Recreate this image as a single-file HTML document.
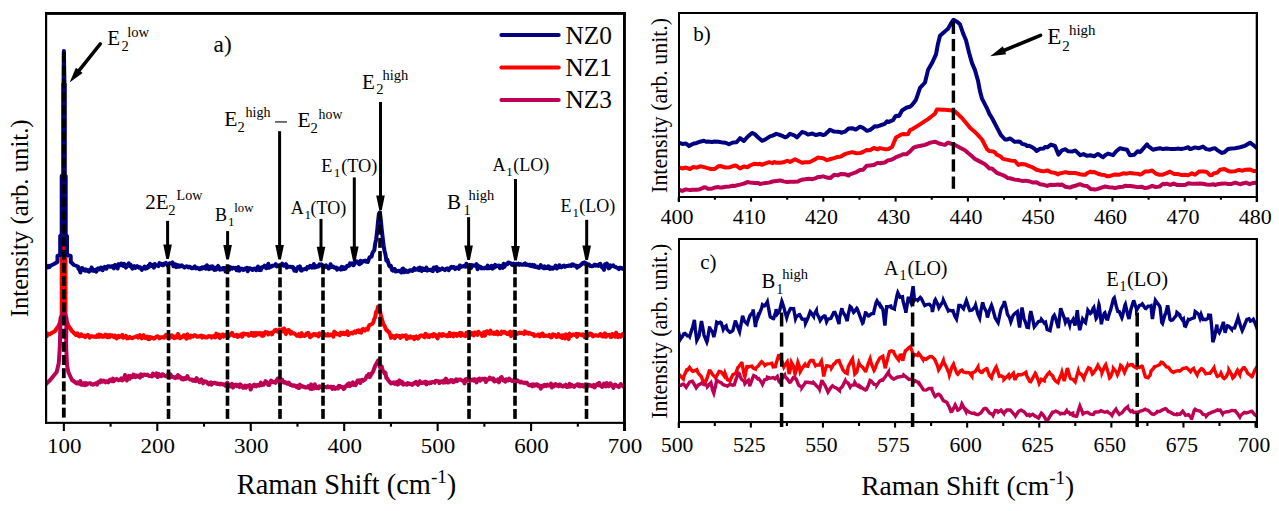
<!DOCTYPE html>
<html><head><meta charset="utf-8"><title>Raman spectra</title><style>html,body{margin:0;padding:0;background:#fff;width:1279px;height:511px;overflow:hidden}svg text{font-family:"Liberation Serif",serif;fill:#000}</style></head><body>
<svg width="1279" height="511" viewBox="0 0 1279 511" style="display:block;font-family:'Liberation Serif', serif">
<rect x="0" y="0" width="1279" height="511" fill="#fff"/>
<defs><clipPath id="ca"><rect x="47" y="14" width="576" height="408"/></clipPath><clipPath id="cb"><rect x="680" y="14" width="576" height="182"/></clipPath><clipPath id="cc"><rect x="680" y="240" width="576" height="181"/></clipPath></defs>
<path d="M46,333.13 46.93,336.07 47.86,333.66 48.79,334.24 49.72,334.31 50,334 55,331 58.5,326 61.7,318 61.7,240 63.9,232 65.5,240 65.5,318 68.5,326 72,331 76,335 76.69,333.53 77.62,333.61 78.55,335.99 79.48,336.38 80.41,334.9 81.34,334.33 82.27,336.02 83.2,336.12 84.13,335.68 85.06,337.27 85.99,335.81 86.92,335.87 87.85,334.76 88.78,336.16 89.71,337.53 90.64,336.14 91.57,336.18 92.5,336.6 93.43,336.45 94.36,336.75 95.29,336.78 96.22,336.89 97.15,335.36 98.08,336.58 99.01,334.51 99.94,336.58 100.87,334.92 101.8,336.25 102.73,336.86 103.66,335.9 104.59,336.48 105.52,334.59 106.45,335.47 107.38,337.19 108.31,335.19 109.24,337.2 110.17,334.98 111.1,335.53 112.03,335.35 112.96,336.59 113.89,337.2 114.82,335.47 115.75,336.47 116.68,338.48 117.61,336.37 118.54,335.86 119.47,337.21 120.4,336.56 121.33,336.07 122.26,334.89 123.19,337.8 124.12,336.29 125.05,336.95 125.98,335.81 126.91,338.43 127.84,337.85 128.77,338.13 129.7,336.95 130.63,337.61 131.56,338.09 132.49,338.25 133.42,337.49 134.35,337.09 135.28,336.77 136.21,336.36 137.14,336.13 138.07,337.59 139,336.93 139.93,335 140.86,337.03 141.79,338.37 142.72,336.89 143.65,335.16 144.58,337.06 145.51,338.05 146.44,337.41 147.37,336.71 148.3,339.21 149.23,339.26 150.16,337.06 151.09,338.06 152.02,337.59 152.95,338.01 153.88,338.74 154.81,338.04 155.74,337.23 156.67,336.41 157.6,336.22 158.53,337.08 159.46,338.38 160.39,337.42 161.32,337.14 162.25,337.36 163.18,337.11 164.11,337.66 165.04,335.81 165.97,334.87 166.9,336.56 167.83,335.76 168.76,338.79 169.69,336.83 170.62,336.72 171.55,335.29 172.48,337.28 173.41,336.27 174.34,338.18 175.27,337.86 176.2,336.07 177.13,337.36 178.06,333.9 178.99,336.14 179.92,338.23 180.85,337.71 181.78,337.02 182.71,336.78 183.64,335.23 184.57,335.27 185.5,337 186.43,338.67 187.36,334.32 188.29,337.38 189.22,337.33 190.15,337.69 191.08,335.66 192.01,336.01 192.94,336.62 193.87,335.42 194.8,335.17 195.73,335.53 196.66,336.4 197.59,336.86 198.52,336.39 199.45,336.48 200.38,335.62 201.31,335.55 202.24,337.55 203.17,336.22 204.1,336.17 205.03,337.26 205.96,337.56 206.89,337.57 207.82,336.59 208.75,336.06 209.68,336.4 210.61,336.25 211.54,337.56 212.47,336.31 213.4,336.66 214.33,335.9 215.26,337.41 216.19,333.61 217.12,336.25 218.05,336.64 218.98,334.5 219.91,338.11 220.84,335.54 221.77,335.5 222.7,334.46 223.63,336.58 224.56,335.83 225.49,334.9 226.42,335.77 227.35,336.24 228.28,336.79 229.21,335.66 230.14,334.33 231.07,334.75 232,332.8 232.93,334.5 233.86,336.08 234.79,335.75 235.72,335.09 236.65,334.8 237.58,336.89 238.51,335.42 239.44,336.08 240.37,335.48 241.3,334.27 242.23,336.68 243.16,333.57 244.09,333.58 245.02,334.39 245.95,334.02 246.88,334.16 247.81,334.07 248.74,335.77 249.67,334.7 250.6,334.98 251.53,332.8 252.46,333.56 253.39,335.63 254.32,333.06 255.25,335.62 256.18,333.13 257.11,334.54 258.04,333.21 258.97,334.29 259.9,333.02 260.83,333.64 261.76,335.65 262.69,333.26 263.62,335.75 264.55,332.83 265.48,331.84 266.41,333.01 267.34,332.26 268.27,334.42 269.2,333.2 270.13,333.33 271.06,332.5 271.99,334.31 272.92,332.26 273.85,331.77 274.78,330.1 275.71,329.86 276.64,330.93 277.57,331.72 278.5,331.78 279.43,329.47 280.36,331.09 281.29,330.76 282.22,329.41 283.15,331.34 284.08,328.45 285.01,331.44 285.94,334.1 286.87,330.51 287.8,331.92 288.73,330.1 289.66,331.65 290.59,333.6 291.52,331.91 292.45,333.31 293.38,333.23 294.31,333.46 295.24,334.32 296.17,334.85 297.1,335.85 298.03,335.56 298.96,334.12 299.89,336.35 300.82,336.19 301.75,333.13 302.68,335.6 303.61,335.8 304.54,335.97 305.47,335.53 306.4,333.53 307.33,334.68 308.26,332.71 309.19,334.83 310.12,337.26 311.05,335.79 311.98,335.98 312.91,334.51 313.84,333.97 314.77,333.92 315.7,335.25 316.63,334.24 317.56,334.43 318.49,336.4 319.42,333.35 320.35,333.71 321.28,334.6 322.21,335.06 323.14,335.04 324.07,333.65 325,335.4 325.93,335.05 326.86,335.59 327.79,334.01 328.72,335.47 329.65,335.44 330.58,334.47 331.51,334.94 332.44,334.54 333.37,336.6 334.3,331.62 335.23,333.4 336.16,333.03 337.09,334.41 338.02,333.98 338.95,334.17 339.88,335.3 340.81,332.6 341.74,333.34 342.67,333.89 343.6,332.68 344.53,334.27 345.46,334.08 346.39,332.79 347.32,331.48 348.25,335.04 349.18,333.65 350.11,333.45 351.04,332.91 351.97,332.66 352.9,333.41 353.83,332.3 354.76,331.42 355.69,332.69 356.62,331.76 357.55,330.61 358.48,330.22 359.41,332.23 360.34,331.36 361.27,332.55 362.2,329.48 363.13,328.91 364.06,329.82 364.99,330.52 365.92,329.26 366.85,328.63 367.78,329.72 368.71,326.23 369.64,324.97 370.57,324.71 371.5,324.23 372.43,323.76 373.36,322.3 374.29,318.8 375.22,317.01 376.15,311.65 377.08,311.39 378.01,306.61 378.94,309.81 379.87,310.07 380.8,314.94 381.73,318.27 382.66,321.96 383.59,324.56 384.52,325.76 385.45,328.08 386.38,330.33 387.31,330.2 388.24,331.94 389.17,331.91 390.1,334.59 391.03,337.84 391.96,336.9 392.89,335.69 393.82,336.24 394.75,338.26 395.68,336.68 396.61,335.43 397.54,336.06 398.47,336.02 399.4,336.04 400.33,337.89 401.26,337.21 402.19,335.47 403.12,336.5 404.05,335.81 404.98,335.71 405.91,335.35 406.84,338.9 407.77,336.61 408.7,337.55 409.63,337.84 410.56,336.43 411.49,337.41 412.42,337.38 413.35,336.99 414.28,339.1 415.21,336.99 416.14,336.39 417.07,337.32 418,338.53 418.93,337.63 419.86,335.98 420.79,335.53 421.72,335.41 422.65,335.67 423.58,336.79 424.51,337.25 425.44,333.78 426.37,336.22 427.3,334.98 428.23,336.9 429.16,337.11 430.09,335.2 431.02,335.51 431.95,334.91 432.88,336.34 433.81,334.09 434.74,334.57 435.67,335 436.6,337.05 437.53,338.29 438.46,335.62 439.39,334.19 440.32,335.57 441.25,334.48 442.18,335.88 443.11,334.1 444.04,334.86 444.97,335.19 445.9,335.73 446.83,335.01 447.76,336.44 448.69,335.13 449.62,332.94 450.55,335.9 451.48,334.51 452.41,334.03 453.34,336.38 454.27,333.57 455.2,334.69 456.13,333.78 457.06,336 457.99,334.06 458.92,334.67 459.85,332.84 460.78,335.9 461.71,333.1 462.64,335.23 463.57,335.41 464.5,335.5 465.43,336.1 466.36,332.78 467.29,334.47 468.22,334.14 469.15,334.42 470.08,335.13 471.01,334 471.94,332.95 472.87,333.7 473.8,335.46 474.73,332.43 475.66,333.78 476.59,332.57 477.52,334.83 478.45,331.76 479.38,333.16 480.31,333.36 481.24,333.59 482.17,336.02 483.1,335.1 484.03,332.21 484.96,335.69 485.89,331.96 486.82,331.18 487.75,331.55 488.68,333.39 489.61,333.72 490.54,330.66 491.47,333.54 492.4,332.74 493.33,333.77 494.26,332.54 495.19,333.93 496.12,333.53 497.05,331.59 497.98,334.44 498.91,333.06 499.84,333.6 500.77,334.16 501.7,331.68 502.63,332.64 503.56,331.81 504.49,331.66 505.42,332.97 506.35,333.04 507.28,334.11 508.21,334.16 509.14,332.6 510.07,331.7 511,336.13 511.93,334.97 512.86,332.48 513.79,331.58 514.72,332.14 515.65,332.93 516.58,333.9 517.51,333.76 518.44,333.23 519.37,332.55 520.3,333.09 521.23,332.65 522.16,333.16 523.09,333.07 524.02,333.88 524.95,331.35 525.88,333.16 526.81,333.35 527.74,332.56 528.67,333.75 529.6,332.92 530.53,333.49 531.46,334.05 532.39,334.23 533.32,334.02 534.25,336.01 535.18,335.16 536.11,335.43 537.04,335.46 537.97,334.6 538.9,334.49 539.83,336.5 540.76,335.31 541.69,333.85 542.62,333.48 543.55,336.23 544.48,335.25 545.41,336.06 546.34,335.59 547.27,335.79 548.2,336.08 549.13,334.92 550.06,336.28 550.99,337.38 551.92,337.05 552.85,334.36 553.78,334.78 554.71,334.77 555.64,335.94 556.57,337.13 557.5,336.51 558.43,334.19 559.36,336.14 560.29,336.93 561.22,335.51 562.15,338.05 563.08,335.19 564.01,337.15 564.94,338.4 565.87,334.36 566.8,335.36 567.73,336.3 568.66,339.15 569.59,333.6 570.52,336.14 571.45,335.78 572.38,334.95 573.31,334.45 574.24,334.75 575.17,334.95 576.1,333.84 577.03,336.93 577.96,333.95 578.89,334.66 579.82,334.37 580.75,334.62 581.68,335.15 582.61,334.2 583.54,334.76 584.47,336.9 585.4,336.16 586.33,334.68 587.26,336 588.19,334.15 589.12,335.25 590.05,333.43 590.98,333.74 591.91,334.05 592.84,336.37 593.77,335.26 594.7,335.61 595.63,335.18 596.56,335.42 597.49,335.48 598.42,335.86 599.35,335.2 600.28,334.02 601.21,334.17 602.14,336.38 603.07,336.6 604,335.67 604.93,333.26 605.86,336.81 606.79,335.44 607.72,335.02 608.65,335.13 609.58,334.72 610.51,337.07 611.44,337.01 612.37,334 613.3,334.98 614.23,335.54 615.16,336.63 616.09,332.58 617.02,336.3 617.95,337.14 618.88,334.96 619.81,335.3 620.74,336.75 621.67,335.82 622.6,333.97 623.53,334.18 624.46,334.37" fill="none" stroke="#ff0000" stroke-width="4" stroke-linejoin="round" stroke-linecap="round" clip-path="url(#ca)"/>
<path d="M46,384 50.2,380 56.7,372 58.8,363 59.9,345 60.5,318 63.9,311 66.5,318 66.1,345 67,365 68.3,372 72,380 77,383.5 77.62,382.35 78.55,383 79.48,383.76 80.41,381.15 81.34,384.67 82.27,384.85 83.2,384.6 84.13,383.13 85.06,385.26 85.99,383.01 86.92,384.56 87.85,383.43 88.78,383.41 89.71,383.18 90.64,383.25 91.57,384.42 92.5,384.69 93.43,384.59 94.36,383.92 95.29,383.55 96.22,383.21 97.15,384.54 98.08,382.01 99.01,381.68 99.94,382.32 100.87,380.31 101.8,381.77 102.73,381.85 103.66,380.66 104.59,381.04 105.52,382.32 106.45,381.18 107.38,381.4 108.31,382.33 109.24,380.4 110.17,379.7 111.1,380.79 112.03,381.17 112.96,378.55 113.89,381.11 114.82,379.86 115.75,379.57 116.68,378.89 117.61,379.43 118.54,380.49 119.47,379.8 120.4,379.9 121.33,378.39 122.26,380.33 123.19,379.76 124.12,378.12 125.05,375.03 125.98,377.77 126.91,380.53 127.84,377.23 128.77,375.96 129.7,378.77 130.63,376.03 131.56,377.07 132.49,377.2 133.42,374.58 134.35,376.19 135.28,377.24 136.21,375.44 137.14,376.42 138.07,375.59 139,376.68 139.93,377.54 140.86,374.25 141.79,375.11 142.72,375.82 143.65,374.66 144.58,374.41 145.51,374.9 146.44,374.95 147.37,374.5 148.3,375.55 149.23,376.05 150.16,375.96 151.09,375.86 152.02,376.41 152.95,373.57 153.88,374.93 154.81,375.25 155.74,375.61 156.67,373.24 157.6,377.08 158.53,374.02 159.46,375.29 160.39,375.81 161.32,376.21 162.25,374.29 163.18,374.5 164.11,375.56 165.04,375.87 165.97,376.31 166.9,375.34 167.83,374.75 168.76,374.16 169.69,377.67 170.62,374.38 171.55,376.8 172.48,376.49 173.41,377.18 174.34,377.55 175.27,378.15 176.2,376.77 177.13,377.44 178.06,375.03 178.99,377.41 179.92,376.54 180.85,377.55 181.78,379.25 182.71,378.18 183.64,379.44 184.57,378.19 185.5,379.02 186.43,378.28 187.36,376.1 188.29,378.26 189.22,378.9 190.15,379.5 191.08,379.47 192.01,379.46 192.94,380.78 193.87,380.57 194.8,379.59 195.73,381.13 196.66,378.13 197.59,380.15 198.52,380.44 199.45,382.19 200.38,380.31 201.31,379.44 202.24,381.4 203.17,383.22 204.1,381.27 205.03,381.54 205.96,381.58 206.89,382.01 207.82,383.53 208.75,384.4 209.68,382.91 210.61,382.42 211.54,384.71 212.47,382.92 213.4,383.02 214.33,382.69 215.26,382.87 216.19,383.61 217.12,383.16 218.05,384.06 218.98,383.83 219.91,384.45 220.84,383.54 221.77,383.85 222.7,384.44 223.63,384.36 224.56,384.49 225.49,385.76 226.42,383.38 227.35,382.51 228.28,385.53 229.21,384.56 230.14,386.4 231.07,384.91 232,383.8 232.93,387.59 233.86,385.71 234.79,384.86 235.72,384.61 236.65,386.14 237.58,384.86 238.51,386.11 239.44,387.03 240.37,384.3 241.3,385.5 242.23,386.48 243.16,387.83 244.09,387.08 245.02,385.6 245.95,387.74 246.88,385.77 247.81,386.01 248.74,386.62 249.67,385.01 250.6,389.59 251.53,387.49 252.46,386.35 253.39,385.4 254.32,384.64 255.25,386.2 256.18,386.4 257.11,385.03 258.04,385.08 258.97,385.71 259.9,384.82 260.83,382.63 261.76,385.17 262.69,384.47 263.62,384.77 264.55,382.89 265.48,381.15 266.41,381.87 267.34,383.33 268.27,385.06 269.2,385.13 270.13,382.66 271.06,380.51 271.99,381.55 272.92,382.23 273.85,382.05 274.78,381.53 275.71,382.77 276.64,380.2 277.57,378.72 278.5,380.08 279.43,379.73 280.36,383.47 281.29,380.87 282.22,379.63 283.15,382.06 284.08,382.72 285.01,381.94 285.94,382.41 286.87,383.67 287.8,383.47 288.73,382.52 289.66,384.33 290.59,385.1 291.52,384.85 292.45,385.82 293.38,385.87 294.31,385.31 295.24,385.73 296.17,386.84 297.1,385.8 298.03,387.86 298.96,388.07 299.89,384.56 300.82,386.75 301.75,386.03 302.68,386.19 303.61,387.07 304.54,386.75 305.47,387.58 306.4,387.34 307.33,387.42 308.26,386.17 309.19,386.67 310.12,388.68 311.05,384.37 311.98,389.01 312.91,386.52 313.84,388.45 314.77,384.32 315.7,386.73 316.63,388.14 317.56,387.39 318.49,388.35 319.42,386.29 320.35,386.65 321.28,386.56 322.21,387.85 323.14,387.81 324.07,387.18 325,387.03 325.93,387.01 326.86,387.44 327.79,386.31 328.72,387.29 329.65,387.21 330.58,386.78 331.51,386.75 332.44,389.01 333.37,386.71 334.3,387.84 335.23,388.9 336.16,388.21 337.09,387.42 338.02,388.51 338.95,385.83 339.88,386.05 340.81,386.93 341.74,387.01 342.67,386.97 343.6,388.9 344.53,388.41 345.46,386.19 346.39,386.17 347.32,384.55 348.25,385.55 349.18,383.39 350.11,386.11 351.04,383.71 351.97,384.62 352.9,382.29 353.83,384.98 354.76,383.85 355.69,385.05 356.62,382.68 357.55,380.53 358.48,381.14 359.41,380.29 360.34,383.06 361.27,380.27 362.2,379.73 363.13,380.8 364.06,379.98 364.99,379.75 365.92,378.11 366.85,375.85 367.78,375.85 368.71,374.14 369.64,377.09 370.57,375.7 371.5,373.21 372.43,373.01 373.36,370.91 374.29,368.25 375.22,365.61 376.15,364.13 377.08,362.6 378.01,360.57 378.94,361.14 379.87,367.17 380.8,368.19 381.73,366.41 382.66,370.85 383.59,371.32 384.52,373.4 385.45,372.81 386.38,378.06 387.31,378.39 388.24,380.31 389.17,381.41 390.1,382.4 391.03,383.5 391.96,382.62 392.89,383.03 393.82,382.43 394.75,383.88 395.68,383.04 396.61,382.01 397.54,384.63 398.47,384.09 399.4,380.35 400.33,381.25 401.26,383.06 402.19,381.82 403.12,384.66 404.05,383.51 404.98,383.94 405.91,384.35 406.84,384.79 407.77,383.01 408.7,384.01 409.63,383.6 410.56,384.2 411.49,383.92 412.42,384.87 413.35,383.88 414.28,382.73 415.21,383.37 416.14,381.95 417.07,383.53 418,384.81 418.93,382.43 419.86,381.22 420.79,382.92 421.72,382.4 422.65,382.91 423.58,382.21 424.51,382.9 425.44,381.64 426.37,384.43 427.3,382.41 428.23,383.18 429.16,383.41 430.09,382.35 431.02,382.97 431.95,382.14 432.88,381.85 433.81,382.03 434.74,382.75 435.67,380.73 436.6,381.06 437.53,381.09 438.46,381.27 439.39,383.09 440.32,381.68 441.25,381.29 442.18,381.69 443.11,382.61 444.04,380.52 444.97,382.38 445.9,378.58 446.83,380.08 447.76,382.59 448.69,382.59 449.62,380.99 450.55,380.22 451.48,381.51 452.41,380.06 453.34,382.13 454.27,381.65 455.2,381.11 456.13,379.25 457.06,381.19 457.99,379.77 458.92,379.72 459.85,379.46 460.78,379.74 461.71,380.37 462.64,380.71 463.57,380.68 464.5,383.46 465.43,379.31 466.36,380.96 467.29,378.93 468.22,379.45 469.15,378.38 470.08,381.01 471.01,379.96 471.94,379.82 472.87,379.54 473.8,380.69 474.73,379.13 475.66,380.12 476.59,382.46 477.52,379.52 478.45,378.99 479.38,378.56 480.31,380.58 481.24,379.76 482.17,378.85 483.1,378.77 484.03,379.72 484.96,378.58 485.89,382.01 486.82,379.48 487.75,379.49 488.68,379.59 489.61,377.69 490.54,378.09 491.47,379.29 492.4,379.66 493.33,378.32 494.26,381.56 495.19,380.19 496.12,381.12 497.05,380.99 497.98,379.44 498.91,382.38 499.84,379.83 500.77,377.61 501.7,377.11 502.63,379.69 503.56,380.65 504.49,379.77 505.42,381.61 506.35,379.36 507.28,380.32 508.21,380.5 509.14,378.55 510.07,380.03 511,380.1 511.93,380.9 512.86,381.03 513.79,380.78 514.72,378.88 515.65,380.63 516.58,381.18 517.51,380.28 518.44,381.36 519.37,381.72 520.3,382.54 521.23,381.71 522.16,382.56 523.09,382.65 524.02,382.91 524.95,382.54 525.88,383.21 526.81,382.66 527.74,383.95 528.67,385.14 529.6,385.22 530.53,385.45 531.46,384.58 532.39,386.31 533.32,384.35 534.25,385.77 535.18,385.45 536.11,384.24 537.04,384.35 537.97,386 538.9,385.28 539.83,385.59 540.76,388.72 541.69,386.01 542.62,385.56 543.55,386.27 544.48,384.83 545.41,385.33 546.34,386.03 547.27,384.66 548.2,385.54 549.13,385.38 550.06,385.7 550.99,383.64 551.92,387.53 552.85,385.49 553.78,386.19 554.71,384.45 555.64,384.15 556.57,385.61 557.5,385.23 558.43,386.3 559.36,384.57 560.29,384.5 561.22,385.95 562.15,386.35 563.08,386.6 564.01,385.55 564.94,385.87 565.87,384.71 566.8,387.03 567.73,386.84 568.66,386.8 569.59,383.82 570.52,386.55 571.45,384.78 572.38,386.12 573.31,386.05 574.24,386.92 575.17,385.37 576.1,385.2 577.03,384.47 577.96,384.28 578.89,386.21 579.82,384.58 580.75,386.31 581.68,385.15 582.61,384.95 583.54,386.63 584.47,386.51 585.4,384.48 586.33,385.38 587.26,385.56 588.19,386.3 589.12,384.76 590.05,385.11 590.98,385.44 591.91,386.32 592.84,386.54 593.77,384.97 594.7,387.49 595.63,386.03 596.56,384.69 597.49,383.86 598.42,385.01 599.35,382.95 600.28,385.76 601.21,386.17 602.14,386.95 603.07,386.1 604,383.68 604.93,385.25 605.86,386.32 606.79,383.17 607.72,384.65 608.65,386.24 609.58,385.61 610.51,383.35 611.44,385 612.37,385.58 613.3,387.84 614.23,385.07 615.16,384.56 616.09,385.82 617.02,385.92 617.95,386.18 618.88,387.14 619.81,385.48 620.74,384.05 621.67,385.6 622.6,385.58 623.53,386.62 624.46,386.48" fill="none" stroke="#be0055" stroke-width="4" stroke-linejoin="round" stroke-linecap="round" clip-path="url(#ca)"/>
<path d="M46,265.85 46.93,267.32 47.86,267.4 48.79,265.93 49.72,267.03 50,266 54,264 57.4,262 57.5,256 60.2,255 60.2,236 61.7,235 61.7,176 63.2,175 63.2,84 63.6,83 63.9,51 64.4,83 64.8,84 64.8,175 65.7,176 65.7,235 67,236 67,255 70.7,256 70.8,262 74,265 78,266.5 78.55,269.12 79.48,269.27 80.41,272.47 81.34,268.28 82.27,267.91 83.2,269.03 84.13,270.31 85.06,270.75 85.99,269.44 86.92,269.99 87.85,271.06 88.78,271.72 89.71,269.89 90.64,270.68 91.57,267.46 92.5,269.36 93.43,270.8 94.36,270.18 95.29,269.84 96.22,271.65 97.15,269.37 98.08,268.28 99.01,269.5 99.94,269.27 100.87,267.55 101.8,269.67 102.73,270.2 103.66,267.43 104.59,266.88 105.52,267.52 106.45,268.76 107.38,266.55 108.31,266.16 109.24,266.13 110.17,266.88 111.1,266.67 112.03,266.06 112.96,267.37 113.89,268.33 114.82,265.03 115.75,266.63 116.68,265.63 117.61,268.5 118.54,264.14 119.47,264.67 120.4,265.16 121.33,263.51 122.26,264.9 123.19,266 124.12,263.73 125.05,265.58 125.98,267.55 126.91,265.08 127.84,264.91 128.77,263.28 129.7,266.12 130.63,264.62 131.56,267.2 132.49,268.56 133.42,267.52 134.35,266.19 135.28,267.91 136.21,266.79 137.14,266.16 138.07,266.93 139,267.79 139.93,267.14 140.86,268.11 141.79,269.86 142.72,268.12 143.65,268.21 144.58,266.56 145.51,268.65 146.44,267.46 147.37,268.05 148.3,265.94 149.23,266.9 150.16,263.9 151.09,265.93 152.02,265.22 152.95,264.87 153.88,267.71 154.81,263.94 155.74,265.29 156.67,265.13 157.6,265.7 158.53,266.07 159.46,263.04 160.39,264.07 161.32,263.76 162.25,265.18 163.18,265.33 164.11,263.76 165.04,263.54 165.97,262.96 166.9,264.44 167.83,265.86 168.76,264.44 169.69,263.28 170.62,263.18 171.55,263.38 172.48,262.43 173.41,266.25 174.34,264.54 175.27,264.22 176.2,267.18 177.13,265.11 178.06,266.66 178.99,265.49 179.92,266.57 180.85,265.62 181.78,265.31 182.71,266.36 183.64,266.88 184.57,267.48 185.5,266.69 186.43,266.37 187.36,266.42 188.29,267.35 189.22,266.64 190.15,266.98 191.08,268.09 192.01,268.29 192.94,268.33 193.87,267.08 194.8,266.42 195.73,268.4 196.66,268.31 197.59,267.82 198.52,268.51 199.45,269.24 200.38,268.09 201.31,268.75 202.24,267.23 203.17,268.07 204.1,267.39 205.03,266.71 205.96,268.78 206.89,265.17 207.82,268.22 208.75,269.14 209.68,268.72 210.61,266.57 211.54,268.53 212.47,266.25 213.4,267.28 214.33,269.83 215.26,268.42 216.19,269.54 217.12,267.03 218.05,265.94 218.98,267.4 219.91,269.63 220.84,269.23 221.77,269.39 222.7,268.05 223.63,268.11 224.56,267.99 225.49,271.4 226.42,268.3 227.35,270.15 228.28,268.02 229.21,269.75 230.14,267.07 231.07,267.74 232,268.72 232.93,267.75 233.86,267.98 234.79,268.3 235.72,267.94 236.65,270.3 237.58,269.9 238.51,267.18 239.44,270.67 240.37,268.8 241.3,268.86 242.23,268.77 243.16,269.97 244.09,269.84 245.02,268.52 245.95,269.2 246.88,267.73 247.81,271.24 248.74,268.28 249.67,268.25 250.6,268.43 251.53,269.35 252.46,269.97 253.39,268.69 254.32,269.02 255.25,268.51 256.18,270.19 257.11,268.89 258.04,266.62 258.97,269.96 259.9,268.53 260.83,270.11 261.76,267.13 262.69,267.07 263.62,267.23 264.55,265.68 265.48,266.63 266.41,268.23 267.34,267.42 268.27,263.81 269.2,267.7 270.13,266.5 271.06,266.84 271.99,265.82 272.92,265.84 273.85,265.56 274.78,265.43 275.71,264.13 276.64,266.33 277.57,265.36 278.5,265.5 279.43,265.43 280.36,264.71 281.29,265.02 282.22,263.71 283.15,265.61 284.08,265.8 285.01,265.43 285.94,264.04 286.87,267.66 287.8,266.27 288.73,266.72 289.66,266.69 290.59,266.67 291.52,267.17 292.45,266.67 293.38,267.52 294.31,270.68 295.24,269.94 296.17,271.04 297.1,268.32 298.03,267.04 298.96,267.71 299.89,266.34 300.82,270.42 301.75,270.53 302.68,269.21 303.61,269.39 304.54,269.24 305.47,268.54 306.4,269.29 307.33,267.17 308.26,267.58 309.19,267.68 310.12,265.74 311.05,266.27 311.98,267.62 312.91,267.3 313.84,263.97 314.77,267.48 315.7,266.66 316.63,266.94 317.56,265.86 318.49,266.44 319.42,264.26 320.35,265.36 321.28,264.38 322.21,264.97 323.14,266.86 324.07,267.43 325,265.78 325.93,265.38 326.86,266.88 327.79,266.7 328.72,268.5 329.65,267.28 330.58,264.22 331.51,267.07 332.44,266.86 333.37,266.53 334.3,267.75 335.23,267.84 336.16,267.53 337.09,269.71 338.02,268.56 338.95,268.66 339.88,268.41 340.81,269.55 341.74,266.87 342.67,269.23 343.6,267.39 344.53,268.97 345.46,268.55 346.39,267.15 347.32,265.68 348.25,266.06 349.18,265.71 350.11,263.28 351.04,264.11 351.97,263.3 352.9,265.21 353.83,265.24 354.76,262.3 355.69,262.3 356.62,261.25 357.55,262.83 358.48,263.29 359.41,264.25 360.34,260.75 361.27,263.06 362.2,261.75 363.13,260.98 364.06,261.23 364.99,260.59 365.92,261.69 366.85,260.93 367.78,261.92 368.71,259.57 369.64,257.25 370.57,257 371.5,256.88 372.43,252.97 373.36,251.51 374.29,250.34 375.22,243.6 376.15,239.35 377.08,231.81 378.01,221.67 378.94,213.85 379.87,212.31 380.8,219.68 381.73,229.36 382.66,237.53 383.59,245.36 384.52,250.95 385.45,254.32 386.38,260.6 387.31,259.58 388.24,262.63 389.17,265.72 390.1,266.73 391.03,265.93 391.96,269.96 392.89,270.65 393.82,269.22 394.75,268.94 395.68,271.56 396.61,271.08 397.54,271.18 398.47,270.64 399.4,270.85 400.33,271.64 401.26,272.39 402.19,269.07 403.12,268.65 404.05,272.21 404.98,270.12 405.91,271.69 406.84,270.93 407.77,272.06 408.7,271.56 409.63,270.14 410.56,270.14 411.49,270.54 412.42,270.89 413.35,269.28 414.28,268.2 415.21,269.88 416.14,269.64 417.07,269.45 418,268.48 418.93,270.2 419.86,267.63 420.79,269 421.72,270.94 422.65,268.31 423.58,269.98 424.51,270.02 425.44,270 426.37,267.69 427.3,270.64 428.23,269.69 429.16,270.07 430.09,269.87 431.02,269.6 431.95,270.87 432.88,271.11 433.81,267.49 434.74,268.68 435.67,269.35 436.6,267.15 437.53,271.14 438.46,268.68 439.39,270.15 440.32,269.77 441.25,269.28 442.18,268.37 443.11,269.02 444.04,269.44 444.97,270.11 445.9,268.91 446.83,268.58 447.76,268.61 448.69,270.16 449.62,268.9 450.55,267.68 451.48,266.87 452.41,267.63 453.34,266.91 454.27,267.28 455.2,269.05 456.13,268.15 457.06,267.47 457.99,267.5 458.92,268.79 459.85,265.51 460.78,267.1 461.71,266.26 462.64,266.53 463.57,266.35 464.5,265.84 465.43,266.72 466.36,263.7 467.29,266.36 468.22,266.78 469.15,265 470.08,265 471.01,268.2 471.94,265.17 472.87,265.79 473.8,265.42 474.73,265.66 475.66,265.67 476.59,264.17 477.52,269.17 478.45,265.84 479.38,267.14 480.31,266.71 481.24,268.36 482.17,267.72 483.1,268.27 484.03,268.38 484.96,268.08 485.89,267.25 486.82,268.26 487.75,265.55 488.68,268.29 489.61,268.1 490.54,267.66 491.47,265.84 492.4,268.7 493.33,266.42 494.26,267.74 495.19,264.92 496.12,266.6 497.05,265.94 497.98,265.63 498.91,265.58 499.84,268.07 500.77,265.9 501.7,266.12 502.63,267.89 503.56,263.8 504.49,266.85 505.42,264.59 506.35,264.14 507.28,264.21 508.21,262.53 509.14,262.7 510.07,263.03 511,263.56 511.93,264.88 512.86,265.24 513.79,263.63 514.72,264.44 515.65,264.53 516.58,263.83 517.51,264.37 518.44,263.53 519.37,264.85 520.3,264.07 521.23,264.45 522.16,264.78 523.09,264.76 524.02,263.92 524.95,263.35 525.88,264.87 526.81,264.45 527.74,264.62 528.67,265.21 529.6,264.69 530.53,266.09 531.46,266.18 532.39,264.9 533.32,266.42 534.25,265.11 535.18,267.08 536.11,267.1 537.04,266.54 537.97,267.66 538.9,267.92 539.83,267.41 540.76,265.02 541.69,267.28 542.62,267.45 543.55,268.19 544.48,266.31 545.41,268.23 546.34,267.9 547.27,268 548.2,266.23 549.13,266.66 550.06,268.85 550.99,268.51 551.92,267.5 552.85,268.75 553.78,267.82 554.71,267.03 555.64,265.71 556.57,268.49 557.5,267.16 558.43,267.5 559.36,265.21 560.29,266.5 561.22,267.33 562.15,266.65 563.08,266.02 564.01,265.51 564.94,266.86 565.87,266.13 566.8,266.06 567.73,266.01 568.66,265.52 569.59,265.77 570.52,265.36 571.45,265.96 572.38,264.33 573.31,264.54 574.24,265.68 575.17,265.38 576.1,265.65 577.03,267.59 577.96,266.14 578.89,266.49 579.82,265.65 580.75,265.02 581.68,264.23 582.61,263.03 583.54,263.49 584.47,262.46 585.4,263.78 586.33,263.26 587.26,263.94 588.19,264.98 589.12,264.57 590.05,266 590.98,266.04 591.91,266.2 592.84,266.05 593.77,265.44 594.7,264.63 595.63,265.73 596.56,265.01 597.49,265.12 598.42,265.84 599.35,264.26 600.28,263.74 601.21,265.94 602.14,267.59 603.07,266.96 604,269.91 604.93,264.37 605.86,265.29 606.79,263.58 607.72,265.24 608.65,268.35 609.58,268.15 610.51,265.39 611.44,266.26 612.37,265.83 613.3,265.38 614.23,266.71 615.16,266.74 616.09,267.33 617.02,267.65 617.95,268.27 618.88,269.15 619.81,267.71 620.74,267.72 621.67,268.11 622.6,268.74 623.53,268.27 624.46,267.5" fill="none" stroke="#000080" stroke-width="4" stroke-linejoin="round" stroke-linecap="round" clip-path="url(#ca)"/>
<rect x="45" y="12" width="581" height="2.9" fill="#000"/>
<rect x="45" y="12" width="2.2" height="412" fill="#000"/>
<rect x="623" y="12" width="2.9" height="419" fill="#000"/>
<rect x="45" y="421.8" width="581" height="2.1" fill="#000"/>
<rect x="62.8" y="423" width="2.1" height="8" fill="#000"/>
<text x="0" y="0" font-size="22" text-anchor="middle" transform="translate(64.3,452.9) scale(1.045,1)">100</text>
<rect x="156.25" y="423" width="2.1" height="8" fill="#000"/>
<text x="0" y="0" font-size="22" text-anchor="middle" transform="translate(157.75,452.9) scale(1.045,1)">200</text>
<rect x="249.7" y="423" width="2.1" height="8" fill="#000"/>
<text x="0" y="0" font-size="22" text-anchor="middle" transform="translate(251.2,452.9) scale(1.045,1)">300</text>
<rect x="343.15" y="423" width="2.1" height="8" fill="#000"/>
<text x="0" y="0" font-size="22" text-anchor="middle" transform="translate(344.65,452.9) scale(1.045,1)">400</text>
<rect x="436.6" y="423" width="2.1" height="8" fill="#000"/>
<text x="0" y="0" font-size="22" text-anchor="middle" transform="translate(438.1,452.9) scale(1.045,1)">500</text>
<rect x="530.05" y="423" width="2.1" height="8" fill="#000"/>
<text x="0" y="0" font-size="22" text-anchor="middle" transform="translate(531.55,452.9) scale(1.045,1)">600</text>
<rect x="623.5" y="423" width="2.1" height="8" fill="#000"/>
<text x="0" y="0" font-size="22" text-anchor="middle" transform="translate(625,452.9) scale(1.045,1)">700</text>
<rect x="109.53" y="423" width="2.1" height="3.7" fill="#000"/>
<rect x="202.98" y="423" width="2.1" height="3.7" fill="#000"/>
<rect x="296.43" y="423" width="2.1" height="3.7" fill="#000"/>
<rect x="389.88" y="423" width="2.1" height="3.7" fill="#000"/>
<rect x="483.32" y="423" width="2.1" height="3.7" fill="#000"/>
<rect x="576.77" y="423" width="2.1" height="3.7" fill="#000"/>
<rect x="61.9" y="407.7" width="3.8" height="9.9" fill="#000"/>
<rect x="61.9" y="394.54" width="3.8" height="9.9" fill="#000"/>
<rect x="61.9" y="381.38" width="3.8" height="9.9" fill="#000"/>
<rect x="61.9" y="368.22" width="3.8" height="9.9" fill="#000"/>
<rect x="61.9" y="355.06" width="3.8" height="9.9" fill="#000"/>
<rect x="61.9" y="341.9" width="3.8" height="9.9" fill="#000"/>
<rect x="61.9" y="328.74" width="3.8" height="9.9" fill="#000"/>
<rect x="61.9" y="315.58" width="3.8" height="9.9" fill="#000"/>
<rect x="61.9" y="302.42" width="3.8" height="9.9" fill="#000"/>
<rect x="61.9" y="289.26" width="3.8" height="9.9" fill="#000"/>
<rect x="61.9" y="276.1" width="3.8" height="9.9" fill="#000"/>
<rect x="61.9" y="262.94" width="3.8" height="9.9" fill="#000"/>
<rect x="61.9" y="249.78" width="3.8" height="9.9" fill="#000"/>
<rect x="61.9" y="236.62" width="3.8" height="9.9" fill="#000"/>
<rect x="61.9" y="223.46" width="3.8" height="9.9" fill="#000"/>
<rect x="61.9" y="210.3" width="3.8" height="9.9" fill="#000"/>
<rect x="61.9" y="197.14" width="3.8" height="9.9" fill="#000"/>
<rect x="61.9" y="183.98" width="3.8" height="9.9" fill="#000"/>
<rect x="61.9" y="170.82" width="3.8" height="9.9" fill="#000"/>
<rect x="61.9" y="157.66" width="3.8" height="9.9" fill="#000"/>
<rect x="61.9" y="144.5" width="3.8" height="9.9" fill="#000"/>
<rect x="61.9" y="131.34" width="3.8" height="9.9" fill="#000"/>
<rect x="61.9" y="118.18" width="3.8" height="9.9" fill="#000"/>
<rect x="61.9" y="105.02" width="3.8" height="9.9" fill="#000"/>
<rect x="61.9" y="91.86" width="3.8" height="9.9" fill="#000"/>
<rect x="61.9" y="78.7" width="3.8" height="9.9" fill="#000"/>
<rect x="61.9" y="65.54" width="3.8" height="9.9" fill="#000"/>
<rect x="61.9" y="52.38" width="3.8" height="9.9" fill="#000"/>
<rect x="61.9" y="49" width="3.8" height="0.12" fill="#000"/>
<rect x="166.7" y="409" width="3.6" height="9.9" fill="#000"/>
<rect x="166.7" y="395.84" width="3.6" height="9.9" fill="#000"/>
<rect x="166.7" y="382.68" width="3.6" height="9.9" fill="#000"/>
<rect x="166.7" y="369.52" width="3.6" height="9.9" fill="#000"/>
<rect x="166.7" y="356.36" width="3.6" height="9.9" fill="#000"/>
<rect x="166.7" y="343.2" width="3.6" height="9.9" fill="#000"/>
<rect x="166.7" y="330.04" width="3.6" height="9.9" fill="#000"/>
<rect x="166.7" y="316.88" width="3.6" height="9.9" fill="#000"/>
<rect x="166.7" y="303.72" width="3.6" height="9.9" fill="#000"/>
<rect x="166.7" y="290.56" width="3.6" height="9.9" fill="#000"/>
<rect x="166.7" y="277.4" width="3.6" height="9.9" fill="#000"/>
<rect x="166.7" y="264.24" width="3.6" height="9.9" fill="#000"/>
<rect x="225.7" y="409" width="3.6" height="9.9" fill="#000"/>
<rect x="225.7" y="395.84" width="3.6" height="9.9" fill="#000"/>
<rect x="225.7" y="382.68" width="3.6" height="9.9" fill="#000"/>
<rect x="225.7" y="369.52" width="3.6" height="9.9" fill="#000"/>
<rect x="225.7" y="356.36" width="3.6" height="9.9" fill="#000"/>
<rect x="225.7" y="343.2" width="3.6" height="9.9" fill="#000"/>
<rect x="225.7" y="330.04" width="3.6" height="9.9" fill="#000"/>
<rect x="225.7" y="316.88" width="3.6" height="9.9" fill="#000"/>
<rect x="225.7" y="303.72" width="3.6" height="9.9" fill="#000"/>
<rect x="225.7" y="290.56" width="3.6" height="9.9" fill="#000"/>
<rect x="225.7" y="277.4" width="3.6" height="9.9" fill="#000"/>
<rect x="225.7" y="264.24" width="3.6" height="9.9" fill="#000"/>
<rect x="278.2" y="409" width="3.6" height="9.9" fill="#000"/>
<rect x="278.2" y="395.84" width="3.6" height="9.9" fill="#000"/>
<rect x="278.2" y="382.68" width="3.6" height="9.9" fill="#000"/>
<rect x="278.2" y="369.52" width="3.6" height="9.9" fill="#000"/>
<rect x="278.2" y="356.36" width="3.6" height="9.9" fill="#000"/>
<rect x="278.2" y="343.2" width="3.6" height="9.9" fill="#000"/>
<rect x="278.2" y="330.04" width="3.6" height="9.9" fill="#000"/>
<rect x="278.2" y="316.88" width="3.6" height="9.9" fill="#000"/>
<rect x="278.2" y="303.72" width="3.6" height="9.9" fill="#000"/>
<rect x="278.2" y="290.56" width="3.6" height="9.9" fill="#000"/>
<rect x="278.2" y="277.4" width="3.6" height="9.9" fill="#000"/>
<rect x="278.2" y="264.24" width="3.6" height="9.9" fill="#000"/>
<rect x="321.2" y="409" width="3.6" height="9.9" fill="#000"/>
<rect x="321.2" y="395.84" width="3.6" height="9.9" fill="#000"/>
<rect x="321.2" y="382.68" width="3.6" height="9.9" fill="#000"/>
<rect x="321.2" y="369.52" width="3.6" height="9.9" fill="#000"/>
<rect x="321.2" y="356.36" width="3.6" height="9.9" fill="#000"/>
<rect x="321.2" y="343.2" width="3.6" height="9.9" fill="#000"/>
<rect x="321.2" y="330.04" width="3.6" height="9.9" fill="#000"/>
<rect x="321.2" y="316.88" width="3.6" height="9.9" fill="#000"/>
<rect x="321.2" y="303.72" width="3.6" height="9.9" fill="#000"/>
<rect x="321.2" y="290.56" width="3.6" height="9.9" fill="#000"/>
<rect x="321.2" y="277.4" width="3.6" height="9.9" fill="#000"/>
<rect x="321.2" y="264.24" width="3.6" height="9.9" fill="#000"/>
<rect x="378.2" y="409" width="3.6" height="9.9" fill="#000"/>
<rect x="378.2" y="395.84" width="3.6" height="9.9" fill="#000"/>
<rect x="378.2" y="382.68" width="3.6" height="9.9" fill="#000"/>
<rect x="378.2" y="369.52" width="3.6" height="9.9" fill="#000"/>
<rect x="378.2" y="356.36" width="3.6" height="9.9" fill="#000"/>
<rect x="378.2" y="343.2" width="3.6" height="9.9" fill="#000"/>
<rect x="378.2" y="330.04" width="3.6" height="9.9" fill="#000"/>
<rect x="378.2" y="316.88" width="3.6" height="9.9" fill="#000"/>
<rect x="378.2" y="303.72" width="3.6" height="9.9" fill="#000"/>
<rect x="378.2" y="290.56" width="3.6" height="9.9" fill="#000"/>
<rect x="378.2" y="277.4" width="3.6" height="9.9" fill="#000"/>
<rect x="378.2" y="264.24" width="3.6" height="9.9" fill="#000"/>
<rect x="378.2" y="251.08" width="3.6" height="9.9" fill="#000"/>
<rect x="378.2" y="237.92" width="3.6" height="9.9" fill="#000"/>
<rect x="378.2" y="224.76" width="3.6" height="9.9" fill="#000"/>
<rect x="378.2" y="211.6" width="3.6" height="9.9" fill="#000"/>
<rect x="467.2" y="409" width="3.6" height="9.9" fill="#000"/>
<rect x="467.2" y="395.84" width="3.6" height="9.9" fill="#000"/>
<rect x="467.2" y="382.68" width="3.6" height="9.9" fill="#000"/>
<rect x="467.2" y="369.52" width="3.6" height="9.9" fill="#000"/>
<rect x="467.2" y="356.36" width="3.6" height="9.9" fill="#000"/>
<rect x="467.2" y="343.2" width="3.6" height="9.9" fill="#000"/>
<rect x="467.2" y="330.04" width="3.6" height="9.9" fill="#000"/>
<rect x="467.2" y="316.88" width="3.6" height="9.9" fill="#000"/>
<rect x="467.2" y="303.72" width="3.6" height="9.9" fill="#000"/>
<rect x="467.2" y="290.56" width="3.6" height="9.9" fill="#000"/>
<rect x="467.2" y="277.4" width="3.6" height="9.9" fill="#000"/>
<rect x="467.2" y="264.24" width="3.6" height="9.9" fill="#000"/>
<rect x="513.2" y="409" width="3.6" height="9.9" fill="#000"/>
<rect x="513.2" y="395.84" width="3.6" height="9.9" fill="#000"/>
<rect x="513.2" y="382.68" width="3.6" height="9.9" fill="#000"/>
<rect x="513.2" y="369.52" width="3.6" height="9.9" fill="#000"/>
<rect x="513.2" y="356.36" width="3.6" height="9.9" fill="#000"/>
<rect x="513.2" y="343.2" width="3.6" height="9.9" fill="#000"/>
<rect x="513.2" y="330.04" width="3.6" height="9.9" fill="#000"/>
<rect x="513.2" y="316.88" width="3.6" height="9.9" fill="#000"/>
<rect x="513.2" y="303.72" width="3.6" height="9.9" fill="#000"/>
<rect x="513.2" y="290.56" width="3.6" height="9.9" fill="#000"/>
<rect x="513.2" y="277.4" width="3.6" height="9.9" fill="#000"/>
<rect x="513.2" y="264.24" width="3.6" height="9.9" fill="#000"/>
<rect x="584.7" y="409" width="3.6" height="9.9" fill="#000"/>
<rect x="584.7" y="395.84" width="3.6" height="9.9" fill="#000"/>
<rect x="584.7" y="382.68" width="3.6" height="9.9" fill="#000"/>
<rect x="584.7" y="369.52" width="3.6" height="9.9" fill="#000"/>
<rect x="584.7" y="356.36" width="3.6" height="9.9" fill="#000"/>
<rect x="584.7" y="343.2" width="3.6" height="9.9" fill="#000"/>
<rect x="584.7" y="330.04" width="3.6" height="9.9" fill="#000"/>
<rect x="584.7" y="316.88" width="3.6" height="9.9" fill="#000"/>
<rect x="584.7" y="303.72" width="3.6" height="9.9" fill="#000"/>
<rect x="584.7" y="290.56" width="3.6" height="9.9" fill="#000"/>
<rect x="584.7" y="277.4" width="3.6" height="9.9" fill="#000"/>
<rect x="584.7" y="264.24" width="3.6" height="9.9" fill="#000"/>
<rect x="166.1" y="220.9" width="3" height="24.6" fill="#000"/>
<polygon points="163.3,244.5 171.9,244.5 168.9,259 166.3,259" fill="#000"/>
<rect x="226.1" y="231.1" width="3" height="14.9" fill="#000"/>
<polygon points="223.3,245 231.9,245 228.9,259.5 226.3,259.5" fill="#000"/>
<rect x="278.1" y="131.2" width="3" height="114.8" fill="#000"/>
<polygon points="275.3,245 283.9,245 280.9,259.5 278.3,259.5" fill="#000"/>
<rect x="319.5" y="218.9" width="3" height="28.8" fill="#000"/>
<polygon points="316.7,246.7 325.3,246.7 322.3,261.2 319.7,261.2" fill="#000"/>
<rect x="352.8" y="177.4" width="3" height="70.1" fill="#000"/>
<polygon points="350,246.5 358.6,246.5 355.6,261 353,261" fill="#000"/>
<rect x="379" y="102" width="3" height="94.5" fill="#000"/>
<polygon points="376.2,195.5 384.8,195.5 381.8,210 379.2,210" fill="#000"/>
<rect x="467.1" y="217.2" width="3" height="29.3" fill="#000"/>
<polygon points="464.3,245.5 472.9,245.5 469.9,260 467.3,260" fill="#000"/>
<rect x="514" y="179" width="3" height="68" fill="#000"/>
<polygon points="511.2,246 519.8,246 516.8,260.5 514.2,260.5" fill="#000"/>
<rect x="585.2" y="219.8" width="3" height="26.7" fill="#000"/>
<polygon points="582.4,245.5 591,245.5 588,260 585.4,260" fill="#000"/>
<line x1="100.2" y1="44" x2="78" y2="71.93" stroke="#000" stroke-width="3.6" stroke-linecap="round"/>
<polygon points="75.88,67.69 82.61,73.04 69.6,82.5" fill="#000"/>
<line x1="501.4" y1="34.9" x2="558.7" y2="34.9" stroke="#000080" stroke-width="4" stroke-linecap="round"/>
<line x1="501.4" y1="67.4" x2="558.7" y2="67.4" stroke="#ff0000" stroke-width="4" stroke-linecap="round"/>
<line x1="501.4" y1="100.1" x2="558.7" y2="100.1" stroke="#be0055" stroke-width="4" stroke-linecap="round"/>
<text x="0" y="0" font-size="24.5" text-anchor="start" transform="translate(565.5,43.5) scale(1.035,1)">NZ0</text>
<text x="0" y="0" font-size="24.5" text-anchor="start" transform="translate(565.5,75.8) scale(1.035,1)">NZ1</text>
<text x="0" y="0" font-size="24.5" text-anchor="start" transform="translate(565.5,108) scale(1.035,1)">NZ3</text>
<text x="107.2" y="44.8" font-size="21" text-anchor="start">E</text>
<text x="121.6" y="50.8" font-size="14.5" text-anchor="start">2</text>
<text x="127.2" y="36.8" font-size="14.7" text-anchor="start">low</text>
<text x="213.6" y="52.4" font-size="23.3" text-anchor="start">a)</text>
<text x="145.2" y="209.1" font-size="21" text-anchor="start">2E</text>
<text x="168.3" y="214.7" font-size="14.5" text-anchor="start">2</text>
<text x="176.6" y="200.2" font-size="14.1" text-anchor="start">Low</text>
<text x="215" y="220.9" font-size="18" text-anchor="start">B</text>
<text x="228" y="225.7" font-size="13" text-anchor="start">1</text>
<text x="234.3" y="212.3" font-size="12.8" text-anchor="start">low</text>
<text x="224.3" y="126.3" font-size="21.5" text-anchor="start">E</text>
<text x="237.5" y="132" font-size="14.5" text-anchor="start">2</text>
<text x="245.5" y="117" font-size="14.1" text-anchor="start">high</text>
<rect x="275" y="121.4" width="12" height="1.1" fill="#000"/>
<text x="297.4" y="127.1" font-size="21.5" text-anchor="start">E</text>
<text x="310.6" y="132.8" font-size="14.5" text-anchor="start">2</text>
<text x="318.6" y="118.6" font-size="13.8" text-anchor="start">how</text>
<text x="321.2" y="171.9" font-size="18.3" text-anchor="start">E</text>
<text x="333.8" y="176.7" font-size="13.3" text-anchor="start">1</text>
<text x="341.2" y="171.9" font-size="18.3" text-anchor="start">(TO)</text>
<text x="290.7" y="214.2" font-size="18" text-anchor="start">A</text>
<text x="304.5" y="219" font-size="13" text-anchor="start">1</text>
<text x="310.5" y="214.2" font-size="18" text-anchor="start">(TO)</text>
<text x="362" y="89.1" font-size="21" text-anchor="start">E</text>
<text x="376.2" y="93.8" font-size="14.5" text-anchor="start">2</text>
<text x="382.5" y="80.1" font-size="14.5" text-anchor="start">high</text>
<text x="447" y="208.8" font-size="21" text-anchor="start">B</text>
<text x="463.4" y="214.8" font-size="14.5" text-anchor="start">1</text>
<text x="468.6" y="200" font-size="14.4" text-anchor="start">high</text>
<text x="492.5" y="170.9" font-size="18" text-anchor="start">A</text>
<text x="506.3" y="175.9" font-size="13" text-anchor="start">1</text>
<text x="513.3" y="170.9" font-size="18" text-anchor="start">(LO)</text>
<text x="560.4" y="212.05" font-size="18" text-anchor="start">E</text>
<text x="572.4" y="216.8" font-size="13" text-anchor="start">1</text>
<text x="579.3" y="212.05" font-size="18" text-anchor="start">(LO)</text>
<text x="0" y="0" font-size="26" text-anchor="middle" transform="translate(28.3,218.4) rotate(-90) scale(0.952,1)">Intensity (arb. unit.)</text>
<text x="346.5" y="493.9" font-size="28.45" text-anchor="middle">Raman Shift (cm<tspan font-size="19" dy="-11">-1</tspan><tspan dy="11">)</tspan></text>
<path d="M678,167.2 682.31,168.43 685.93,167.57 690,169 693.16,167.04 696.77,167.65 700,166.3 704,167.11 707.61,168.15 711,169 714.84,169.05 718.45,166.17 720,166 722.07,166.55 725.68,167.56 730,167.2 732.91,166.09 735,165.5 736.52,165.81 740,168.5 743.75,166.39 747.37,167.25 750,165.5 754.59,163.65 758.21,164.22 760,163.7 761.82,164.84 765.44,163.34 769.05,162.14 772.66,163.17 774,161.9 776.28,162.82 779.89,162.74 783.51,162.3 787.12,160.75 790,161.9 795,159.3 797.96,160.81 802,162.8 805.19,162.27 808.8,162.33 812,161 816.03,158.66 818,157.5 819.65,157.79 823.26,158.18 826.87,160.15 830,159.3 834.1,158.19 837.72,156.94 840,156.7 841.33,156.31 844.94,154.07 848,153.1 852.17,152.12 855.79,153.19 860,153.1 863.01,152 866.63,150.04 870,150.3 873.86,147.95 877.47,149.4 880,148.1 884.7,149.15 887,149.2 888.31,148.98 892,147 896,137.4 900,135.2 902.77,133.99 906.38,134.27 908,134.1 910,130.04 913,128.8 917.22,126.14 920,124.4 924.45,121.45 928,119.1 931.68,116.26 935,113.7 937,109.4 938.91,109.5 942.52,109.68 945,109.8 949.75,110.28 952,110.5 953.36,110.95 955,111.5 956.98,113.34 960.59,116.69 962,118 964.21,120.67 967.82,125.06 970,127.7 971.43,128.93 975,132 978.66,135.92 982,139.5 987,149.2 989.5,151.04 993.12,151.49 995,152.4 996.73,154.68 1000.35,156.28 1003,158.9 1007.57,159.85 1011.19,160.63 1015,161 1018.42,165.01 1020,164.3 1022.03,164.03 1025.64,164.57 1030,166.4 1032.87,167.47 1036.49,169.71 1040,170.7 1043.71,171.37 1047.33,170.39 1050.94,172.23 1055,172.9 1058.17,174.41 1060,173.2 1061.78,173.2 1065.4,172.12 1069.01,172.98 1072.63,172.92 1075,172.9 1076.24,173.22 1079.85,174.19 1083.47,174.83 1085,174.8 1087.08,173.27 1090.7,171.56 1092,172.4 1094.31,171.98 1097.92,173.73 1101.54,174.77 1105.15,175.13 1107,176.3 1108.77,176.37 1112.38,175.16 1115,174.5 1119.61,174.66 1123.22,173.33 1126.84,173.67 1130,172.9 1134.06,173.5 1137.68,173.71 1140,174.5 1141.29,174.25 1144.91,171.54 1148,171.6 1152.13,170.46 1155.75,173.54 1159.36,174.76 1162,174.8 1166.59,173.08 1170,171.6 1173.82,173.91 1177.43,173.96 1181.05,174.94 1185,174.8 1188.27,175.25 1191.89,173.35 1195,174.8 1199.12,171.43 1203,171.6 1206.34,171.68 1209.96,175.16 1212,175.1 1213.57,173.54 1217.19,172.6 1220,169.8 1224.41,168.96 1228.03,170.88 1230,171.6 1231.64,171.41 1235.26,171.2 1238.87,169.89 1242.48,170.69 1245,169.8 1249.71,169.43 1253.33,170.9 1258,170.9" fill="none" stroke="#ff0000" stroke-width="4" stroke-linejoin="round" stroke-linecap="round" clip-path="url(#cb)"/>
<path d="M678,189.6 682.31,190.91 685.93,189.39 690,190.1 693.16,189.72 696.77,189.84 700,189.2 704,187.36 706,187.5 707.61,188.73 711.23,188.86 714.84,187.57 718.45,187.1 720,187.5 722.07,187.49 725.68,186.84 729.3,186.49 732.91,185.73 735,186 736.52,185.4 740.14,184.64 743.75,183.66 747.37,182.08 750,182.5 754.59,183.05 758.21,182.9 760,184 761.82,183.61 765.44,183.08 769.05,182.61 772.66,181.51 776.28,180.98 780,180.4 783.51,181.39 787.12,181.99 790,181.8 794.35,181.69 797.96,181.45 800,180.4 801.58,179.77 805.19,179.34 808.8,178.66 812.42,179.21 816.03,178.08 818,176.9 819.65,176.94 823.26,176.37 828,177.8 830.49,177.99 834.1,174.79 837.72,175.38 840,174.3 841.33,174.06 844.94,174.2 848.56,175.56 850,174.3 852.17,173.68 855.79,172.44 860,169.9 863.01,169.83 866.63,165.73 870,165.4 873.86,165.02 877.47,162.88 880,163.2 884.7,162.5 888.31,160.3 890,160 891.93,159.5 895.54,157.47 900,155.7 902.77,154.32 906.38,154.36 910,151.4 913.61,147.52 915,147 917.22,146.53 920.84,145.77 925,144.9 928.07,143.55 930,142.7 931.68,142.36 935,141.7 940,143.8 942.52,144.35 945,144.9 948,142.7 949.75,143.25 953.36,144.39 955,144.9 956.98,145.97 960.59,147.92 965,150.3 967.82,152.73 971.43,155.83 975,158.9 978.66,160.88 982.28,162.83 985,164.3 989.5,168.48 992,168.6 996.73,172.86 1000,174 1003.96,175.54 1007.57,177.92 1010,178.3 1014.8,179.62 1018.42,179.97 1020,180.4 1022.03,180.9 1025.64,180.65 1030,181.5 1032.87,182.59 1036.49,182.33 1040,184.3 1043.71,184.85 1047.33,185.93 1050,184.7 1054.56,185.07 1058.17,184.49 1060,185 1061.78,184.48 1065.4,186.68 1070,187.6 1072.63,186.45 1076.24,185.48 1080,184.2 1083.47,185.62 1087.08,185.92 1090.7,188.96 1095,189.6 1097.92,188.91 1101.54,187.56 1105,186.5 1108.77,187.27 1112.38,187.39 1115,188.1 1119.61,187.07 1123.22,186.64 1125,185.7 1126.84,186.04 1130.45,185.91 1134.06,186.54 1137.68,187.11 1141.29,186.65 1145,188.1 1148.52,187.46 1152.13,185.81 1155.75,187.02 1159.36,186.62 1162.98,183.68 1165,184.2 1166.59,183.67 1170.2,184.92 1173.82,183.58 1177.43,185.02 1181.05,185.09 1185,185 1188.27,183.32 1191.89,183.71 1195.5,183.72 1200,183.4 1202.73,183.73 1206.34,184.57 1209.96,184.76 1213.57,184.21 1215,185 1217.19,184.35 1220.8,183.83 1225,183.4 1228.03,184.06 1231.64,183.94 1235.26,182.6 1240,184.2 1242.48,183.56 1246.1,182.61 1249.71,184.15 1253.33,182.97 1258,182.6" fill="none" stroke="#be0055" stroke-width="4" stroke-linejoin="round" stroke-linecap="round" clip-path="url(#cb)"/>
<path d="M678,142.6 682.31,143.9 685.93,143.48 689,146.1 693.16,143.75 696.77,142.97 700,141.7 704,140.8 706,141.7 707.61,141.61 712,142 714.84,141.53 718.45,141.78 723,142.6 725.68,142.81 729,144.3 732.91,142.51 736.52,142.33 740,138.2 744,141 747.37,137.04 752,132.9 754.59,133.98 758.21,137.44 762,140.8 765.44,139.44 770,136.4 772.66,135.62 776.28,133.84 779,134.6 783.51,136.47 785,137.3 787.12,136.58 790,133.8 794.35,135.35 797,137.3 802,132 805.19,132.83 808,134.6 812.42,133.57 816.03,135.02 820,134 823.26,134.96 825,134.6 826.87,132.71 830,129.7 834.1,131.62 837.72,131.82 840,132 841.33,132.73 844.94,131.65 848.56,128.47 850,128.5 852.17,128.2 855.79,129.59 860,126.7 863.01,127.95 867,130.8 870.24,129.79 875,126.2 877.47,126.47 880,125.5 884.7,123.86 887,121.2 888.31,122.03 893,120.1 895.54,116.11 897,115.8 899.15,115.92 902,110.5 906.38,107.76 908,107.2 910,106.69 912,105 913.61,102.97 916,99.7 917.22,96.06 920,87.8 925,82.5 928,70.1 932,63.1 936,54.3 938,43.7 940,35.8 942.52,33.59 944,32.3 946.14,30.38 948,28.7 949.75,25.64 952,21.7 953.5,19.9 957,21.7 960,24.3 963,33.1 964.21,35.95 966,40.2 969,52.5 972,63.1 975,70.1 978,80.7 980,91.3 982,98.6 987,108.3 989.5,114.09 992,118 997,127.7 1001,135.2 1005,139.5 1007.57,139.42 1010,138.4 1014.8,141.88 1018.42,141.43 1020,141.7 1022.03,143.84 1025.64,144.79 1027,146 1029.26,145.87 1032.87,147.55 1035,149.2 1036.49,150.93 1040.1,148.71 1043.71,148.42 1045,147 1047.33,147.34 1050.94,144.6 1055,146 1058.4,154.6 1062,150.3 1065.4,149.18 1068,151.3 1072.63,151.44 1075,150.5 1076.24,151.36 1080.3,155.2 1083.47,154.12 1087.08,155.85 1090,155.2 1094.31,156.24 1097.92,153.93 1100,155.2 1101.54,156.41 1103,157.2 1105.15,155.32 1108,153.6 1113,155.2 1115.99,151.51 1120,148.2 1123.22,149.04 1127,149.7 1130,155.2 1134.06,154.82 1137.68,151.2 1140,152.1 1141.29,150.92 1144.91,146.72 1147,144.3 1148.52,146.35 1153,149.7 1155.75,148.99 1160,148.2 1162.98,149.09 1166.59,148.6 1170.2,148.88 1175,149 1177.43,148.61 1181.05,149.01 1184.66,148.37 1188.27,147.24 1190,149 1191.89,148.67 1195,147.4 1199.12,148.22 1203,146.6 1206.34,149.11 1210,149.7 1213.57,148.38 1215,148.2 1217.19,150.11 1222,152.9 1224.41,152.26 1228,149 1231.64,148.48 1235,148.2 1238.87,147.59 1242.48,146.52 1245,145.8 1250,142.7 1253.33,145.05 1258,149" fill="none" stroke="#000080" stroke-width="4" stroke-linejoin="round" stroke-linecap="round" clip-path="url(#cb)"/>
<rect x="678" y="12" width="580" height="2" fill="#000"/>
<rect x="678" y="12" width="2" height="190" fill="#000"/>
<rect x="1255.7" y="12" width="2.3" height="190" fill="#000"/>
<rect x="678" y="196" width="580" height="2" fill="#000"/>
<rect x="677.7" y="197" width="2.1" height="4.6" fill="#000"/>
<text x="0" y="0" font-size="20" text-anchor="middle" transform="translate(676.9,223.8) scale(1.100,1)">400</text>
<rect x="713.84" y="197" width="2.1" height="2.7" fill="#000"/>
<rect x="749.99" y="197" width="2.1" height="4.6" fill="#000"/>
<text x="0" y="0" font-size="20" text-anchor="middle" transform="translate(749.19,223.8) scale(1.100,1)">410</text>
<rect x="786.13" y="197" width="2.1" height="2.7" fill="#000"/>
<rect x="822.27" y="197" width="2.1" height="4.6" fill="#000"/>
<text x="0" y="0" font-size="20" text-anchor="middle" transform="translate(821.47,223.8) scale(1.100,1)">420</text>
<rect x="858.41" y="197" width="2.1" height="2.7" fill="#000"/>
<rect x="894.56" y="197" width="2.1" height="4.6" fill="#000"/>
<text x="0" y="0" font-size="20" text-anchor="middle" transform="translate(893.76,223.8) scale(1.100,1)">430</text>
<rect x="930.7" y="197" width="2.1" height="2.7" fill="#000"/>
<rect x="966.84" y="197" width="2.1" height="4.6" fill="#000"/>
<text x="0" y="0" font-size="20" text-anchor="middle" transform="translate(966.04,223.8) scale(1.100,1)">440</text>
<rect x="1002.98" y="197" width="2.1" height="2.7" fill="#000"/>
<rect x="1039.12" y="197" width="2.1" height="4.6" fill="#000"/>
<text x="0" y="0" font-size="20" text-anchor="middle" transform="translate(1038.33,223.8) scale(1.100,1)">450</text>
<rect x="1075.27" y="197" width="2.1" height="2.7" fill="#000"/>
<rect x="1111.41" y="197" width="2.1" height="4.6" fill="#000"/>
<text x="0" y="0" font-size="20" text-anchor="middle" transform="translate(1110.61,223.8) scale(1.100,1)">460</text>
<rect x="1147.55" y="197" width="2.1" height="2.7" fill="#000"/>
<rect x="1183.7" y="197" width="2.1" height="4.6" fill="#000"/>
<text x="0" y="0" font-size="20" text-anchor="middle" transform="translate(1182.9,223.8) scale(1.100,1)">470</text>
<rect x="1219.84" y="197" width="2.1" height="2.7" fill="#000"/>
<rect x="1255.98" y="197" width="2.1" height="4.6" fill="#000"/>
<text x="0" y="0" font-size="20" text-anchor="middle" transform="translate(1255.18,223.8) scale(1.100,1)">480</text>
<rect x="951.7" y="21.7" width="3.4" height="12.3" fill="#000"/>
<rect x="951.7" y="38.9" width="3.4" height="12.3" fill="#000"/>
<rect x="951.7" y="56.1" width="3.4" height="12.3" fill="#000"/>
<rect x="951.7" y="73.3" width="3.4" height="12.3" fill="#000"/>
<rect x="951.7" y="90.5" width="3.4" height="12.3" fill="#000"/>
<rect x="951.7" y="107.7" width="3.4" height="12.3" fill="#000"/>
<rect x="951.7" y="124.9" width="3.4" height="12.3" fill="#000"/>
<rect x="951.7" y="142.1" width="3.4" height="12.3" fill="#000"/>
<rect x="951.7" y="159.3" width="3.4" height="12.3" fill="#000"/>
<rect x="951.7" y="176.5" width="3.4" height="12.3" fill="#000"/>
<text x="693.2" y="41.4" font-size="21" text-anchor="start">b)</text>
<text x="1047.2" y="44.3" font-size="23" text-anchor="start">E</text>
<text x="1062.3" y="50.6" font-size="15" text-anchor="start">2</text>
<text x="1069" y="34.5" font-size="14.9" text-anchor="start">high</text>
<line x1="1040.5" y1="35.3" x2="1002.67" y2="51.02" stroke="#000" stroke-width="3.6" stroke-linecap="round"/>
<polygon points="1002.86,46.28 1006.16,54.22 990.2,56.2" fill="#000"/>
<text x="0" y="0" font-size="23" text-anchor="middle" transform="translate(667,105.4) rotate(-90) scale(0.952,1)">Intensity (arb. unit.)</text>
<path d="M678,373.2 680.88,376.52 683.3,379 683.77,376.49 686.65,369.99 687.4,370.2 689.54,367.37 692.42,371.22 692.7,371.4 695.3,370.44 696.8,369.6 698.19,373.15 701.07,376.31 703.96,382.93 705,382.6 706.84,378.83 709.7,369.6 709.72,369.94 712.61,374.55 715.49,377.66 715.6,377.9 718.38,372.8 719.1,371.4 721.26,371.97 724.14,375.9 724.9,373.2 727.03,378.65 727.3,379.6 729.91,381.08 730.8,379 732.8,374.83 735.68,373.27 737.9,367.3 738.56,366.91 741.45,363.09 742,363.2 744.33,375.6 744.9,376.7 747.2,365 747.22,367.48 750.1,366.42 751.9,366.1 752.98,367.87 755.5,369.1 755.87,368.07 758.75,365.4 760.2,363.2 761.64,361.63 764.52,364.62 764.9,365.5 767.4,363.87 770.29,363.59 771.9,363.2 773.17,366.94 775.4,366.7 776.06,363.71 777.8,357.9 778.94,354.3 779.1,355.3 781.82,361.07 783.8,367 784.71,365.4 787.3,361.7 787.59,363.29 789.1,374 790.48,368.63 791.4,362.3 793.36,365.88 795,374 796.24,370.21 797.9,362.3 799.13,365.67 800.2,371.7 802.01,368.39 804.9,364.44 805.5,365.8 807.78,366.25 809,362.9 810.66,360.48 813.1,360.5 813.55,361.59 815.5,365.8 816.43,364.97 819.32,365.04 821.4,361.1 822.2,365.35 823.7,376.4 825.08,370.39 826.6,365.8 827.97,365.85 830.85,366.58 831.3,368.2 833.74,364.07 834.9,363.5 836.62,361.04 839,360.5 839.5,362.03 842.39,368.59 842.5,369.3 845.27,372.6 847.2,373.5 848.16,366.84 851.04,361.38 852.5,358.8 853.92,367.85 854.8,374 856.81,371.94 858.9,362.9 859.69,364.73 862.58,367.15 865.4,371.1 865.46,372.32 868.34,363.24 870.1,358.8 871.23,363.33 874.11,370.54 874.5,370 877,363.11 878.7,360 879.88,357.89 882.76,356.29 882.8,356.6 885.3,368.3 885.65,366.43 888.53,355.13 889.5,351.6 891.42,350.76 893.6,351.6 894.3,353.78 897.18,358.29 898.6,360 900.07,355.21 901.1,355 902.8,360.8 902.95,359.76 905.3,350.8 905.84,350.75 908.72,347.72 910.3,346.6 911.6,349.75 913.6,355.8 914.49,354.45 917.37,355.43 918.6,353.3 920.26,355.25 923.14,359.73 923.6,358.3 926.02,359.27 928.91,357.3 930.2,356.6 931.79,356.75 933.6,358.3 934.68,359.28 937.56,366.16 938.6,370 940.44,367.23 943.33,360.62 943.5,361.6 946.21,366.71 949.1,373.54 949.4,374.9 951.98,366.83 953.5,364.1 954.86,368.22 956.9,373.3 957.75,374.23 960.63,370.6 961.9,370 963.52,372.04 966.4,372.67 966.8,372.4 969.28,372.75 971.9,376.3 972.17,372.73 975.05,371.83 977.94,367.13 978.2,369.3 980.82,372.36 982.1,372.4 983.7,370.36 986.59,368.46 986.8,368.5 989.47,375.52 991.5,377.9 992.36,374.9 995.24,368.48 996.2,366.9 998.12,372.28 999.3,376.3 1001.01,375.91 1003.89,377.39 1004,379.4 1006.78,376.8 1008.7,374.7 1009.66,377.61 1012.54,374.08 1013.4,373.2 1015,380.2 1015.43,378.2 1018.31,374.59 1019.6,374.7 1021.2,374.81 1024.08,373.71 1025.9,372.4 1026.96,376.3 1029.85,381.62 1030.6,381.8 1032.73,378.22 1035.3,373.2 1035.62,373.64 1038.5,380.94 1039.2,383.3 1041.38,379.28 1044.27,380.84 1044.7,378.6 1047.15,374.77 1049.4,372.4 1050.04,373.58 1052.92,376.15 1053.3,377.9 1055.8,381.19 1058,382.6 1058.69,380.46 1061.57,373.54 1061.9,372.4 1064.2,381 1064.46,379.94 1067.3,368.5 1067.34,367.84 1070.22,377.99 1070.5,378.6 1073.11,379.5 1075.2,381.8 1075.99,378.85 1078.3,370.8 1078.88,372.68 1081.76,374.75 1083.8,378.6 1084.64,375.73 1087.53,369.54 1088.5,367.7 1090.41,368.64 1092.4,374 1093.3,373.2 1096.18,368.8 1097.9,365.3 1099.06,367.5 1101.8,371.6 1101.95,372.74 1104.83,365.93 1105.7,364.6 1107.72,370.92 1109.6,377.9 1110.6,376.85 1113.48,369.1 1113.5,368.5 1116.37,371.99 1117.4,374.7 1119.25,370.37 1120.6,365.3 1122.14,366.7 1124.5,372.4 1125.02,371.19 1127.6,365.3 1127.9,365.99 1130.79,364.71 1132.3,364.6 1133.67,366.37 1136.56,368.09 1137,366.9 1139.44,367.46 1141.7,366.1 1142.32,366.31 1145.21,376.32 1145.6,377.1 1148.09,377.71 1150.3,374.7 1150.98,371.12 1153.86,368.02 1154.2,366.9 1156.74,366.02 1159.63,364.67 1161.2,362.2 1162.51,362.49 1165.4,365.56 1166.3,366.9 1168.28,367.16 1171.16,371 1173.3,372.4 1174.05,371.81 1176.93,370.9 1178.8,370.8 1179.82,371.17 1182.7,368.63 1185.58,367.98 1186.6,367.7 1188.47,369.36 1190.5,371.6 1191.35,370.11 1193.6,368.5 1194.24,370.04 1197.12,374.77 1197.6,373.2 1200,370.1 1201.5,368.5 1202.89,369.24 1205.4,373.2 1205.77,373.79 1208.66,373.1 1210.1,373.2 1211.54,371.37 1214,367.7 1214.42,369.58 1217.1,376.3 1217.31,376.47 1220.19,375.05 1221,373.2 1223.08,377.71 1224.2,378.6 1225.96,377.14 1228.84,371.22 1228.9,370 1231.73,374.83 1232.8,377.9 1234.61,376.17 1236.7,371.6 1237.5,370.29 1239.8,374.7 1240.38,371.81 1243.26,367.82 1244.5,367.7 1246.15,370.27 1247.6,373.2 1249.03,374.31 1251.92,376.68 1252.3,376.3 1254.8,370.17 1257,366.9 1257.68,368.44" fill="none" stroke="#ff0000" stroke-width="3.4" stroke-linejoin="miter" stroke-linecap="round" clip-path="url(#cc)"/>
<path d="M678,385.5 680.88,385.33 682.7,384.3 683.77,384.28 686.2,387.3 686.65,386.66 689.54,382.17 691.5,381.4 692.42,381.17 695.3,386.08 696.2,387.8 698.19,385.16 701.07,383.59 701.5,383.1 703.96,384.56 706.84,384.94 707.3,386.7 709.72,383.81 710.9,382.6 712.61,390.13 713.8,393.1 715.49,386.2 716.7,380.2 718.38,381.6 721.26,382.77 722,383.7 724.14,385.25 727.03,385.92 727.3,386.1 729.91,384.4 732.8,385.22 734.3,384.9 735.68,380.03 738.56,373.01 739,373.2 741.45,379.14 744.33,381.4 744.9,383.7 747.22,381.1 748.4,380.2 749.6,384.9 750.1,384.86 752.98,377.17 753.7,375.5 755.87,376.62 757.8,379 758.75,378.56 761.64,382.52 762.5,384.3 764.52,379.81 767.2,379 767.4,377.22 770.29,378.22 771.9,377.9 773.17,377.5 775,378.7 776.06,377.58 777.3,376.4 778.94,381.48 779.7,382.3 781.82,378.78 784.71,375.08 785,376.4 787.59,379.39 789.7,382.3 790.48,382.04 793.36,377.49 795,377.6 796.24,379.14 798.5,384.6 799.13,385.59 802,387 802.01,387.5 804.9,383.4 805.5,382.3 807.78,382.25 810.66,382.77 813.55,383.3 813.7,382.8 816.43,385.74 819.32,388.66 819.6,389.3 822,379.9 822.2,381.31 825.08,385.58 827.8,391.6 827.97,392 830.85,387.49 832.5,385.8 833.74,386.8 836.62,388.14 839.5,390.52 839.6,389.3 842.39,386.43 845.27,380.76 845.4,381.1 848.16,383.21 850.1,387 851.04,385.39 853.92,384.91 854.8,382.3 856.81,385.41 859.5,387 859.69,385.91 862.58,388.29 865.46,389.98 866.5,389.3 868.34,385.36 870.1,380.5 871.23,381.13 874.11,384.42 877,384.88 877,384.9 879.88,380.84 882,379.9 882.76,380.16 885.65,376.22 888.53,372 888.6,374.1 891.42,377.49 893.6,379.1 894.3,378.91 897.18,377.25 900.07,376.77 902.95,376.27 903.6,374.9 905.84,376.69 908.6,379.1 908.72,378.97 911.6,379.36 914.49,381.57 915.3,380.8 917.37,381.92 920.26,385.22 920.3,384.9 923.14,389.46 923.6,389.9 926.02,390.11 928.91,388.48 931.79,388.39 931.9,389.9 934.68,395.93 935.2,396.6 937.56,394.45 938.6,394.1 940.44,395.67 943.33,400.67 946.21,401.95 946.9,402.4 949.1,406.74 951,411.5 951.98,411.3 954.86,405.66 955.2,404.9 957.75,410.11 958.5,409.9 960.63,408.02 961.9,404 963.52,406.85 966,411.5 966.4,409.87 969.28,412.27 972.17,413.34 974.3,413.1 975.05,413.87 977.94,414.72 978.2,414.6 980.82,413.04 983.7,409.01 985.2,408.4 986.59,408.94 989.47,412.9 992.36,414.38 993,415.4 995.24,410.59 996.9,410.7 998.12,412.13 1001.01,410.03 1003.89,413.45 1004,413.1 1006.78,410.02 1009.66,409.92 1010.3,410 1012.54,412.59 1015,415.4 1015.43,416.08 1018.31,411.71 1019.6,410.7 1021.2,410.14 1024.08,411.72 1026.96,415.22 1029,414.6 1029.85,415.81 1032.73,414.26 1035.62,416.41 1036.9,417 1038.5,418.02 1041.38,413.11 1042.3,413.9 1044.27,416.6 1047,421.7 1047.15,420.9 1050.04,416.25 1052.5,412.3 1052.92,412.45 1055.8,411.15 1058.69,412.36 1060.3,413.9 1061.57,413.34 1064.46,413.64 1066.6,410.7 1067.34,412.36 1068.9,412.3 1070.22,414.15 1072.8,413.1 1073.11,415.62 1075.99,416.28 1076.7,416.2 1078.88,408.95 1079.9,406 1081.76,410.58 1083,413.9 1084.64,412.89 1087.53,412.27 1088.5,413.1 1090.41,414.14 1093.3,414.53 1094.7,412.3 1096.18,411.93 1099.06,411.92 1101,410.7 1101.95,411.08 1104.83,412.31 1107.3,411.5 1107.72,412.11 1110.6,413.81 1112,415.4 1113.48,412.35 1115.9,409.2 1116.37,410.24 1119.25,414.34 1119.8,413.9 1122.14,412.74 1125.02,408.98 1127.6,406.8 1127.9,408.3 1130.79,411.62 1132.3,410.7 1133.67,412.38 1136.56,412.13 1138.6,412.3 1139.44,411.45 1142.32,410.7 1145.21,409.28 1146.4,410 1148.09,410.35 1150.98,413.18 1151.9,413.9 1153.86,414.32 1156.74,412.53 1157.3,411.5 1159.63,411.47 1162.51,409.88 1165.4,408.67 1166.3,409.2 1168.28,411.44 1171,412.3 1171.16,412.71 1174.05,414.35 1176.93,414.6 1177.2,413.9 1179.82,414.31 1182.7,411.25 1183.5,412.3 1185.58,415.35 1188.47,414.57 1191.3,417.8 1191.35,419.65 1194.24,410.4 1195.2,409.2 1197.12,410.35 1200,411 1200.7,411.5 1202.89,414.31 1205.77,415.22 1206.2,416.2 1208.66,413.5 1210.1,413.1 1211.54,412.38 1214.42,411.44 1217.1,410 1217.31,410.44 1220.19,410.05 1222.6,413.9 1223.08,412.85 1225.96,411.94 1228.84,411.45 1228.9,411.5 1231.73,410.4 1234.61,410.78 1235.1,410.7 1237.5,413.53 1239.8,417 1240.38,415.72 1243.26,413.21 1244.5,412.3 1246.15,412.86 1249.03,412.06 1250.8,411.5 1251.92,411.33 1254.8,414.74 1257,416.2 1257.68,416.58" fill="none" stroke="#be0055" stroke-width="3.4" stroke-linejoin="miter" stroke-linecap="round" clip-path="url(#cc)"/>
<path d="M678,329.9 680.3,339.3 680.88,338.4 682.1,337 683.77,333.92 685,333.4 686.65,335.02 687.4,335.8 689.54,336.14 689.7,336.4 692.1,328.7 692.42,328.4 694.4,319.9 695.3,329.17 696.8,340.5 698.19,337.81 699.1,335.8 701.07,323.3 701.5,321.1 703.8,333.4 703.96,335.03 706.84,342.02 707.3,340.5 709.7,326.4 709.72,328.23 712.61,332.03 713.8,337 715.49,330.02 716.7,322.3 718.38,323.29 720.3,322.3 721.26,322.85 723.2,329.3 724.14,327.3 726.1,325.8 727.03,329.48 729.91,332.29 731.4,331.7 732.8,330.62 735.5,320.5 735.68,321.68 738.56,329.1 739.6,331.7 741.45,322.04 742.6,315.8 744.33,321.12 747.2,324 747.22,323.92 749,318.2 750.1,315.32 752.98,312 753.1,309.4 755.5,327 755.87,323.22 758.75,312.82 759,314.6 761.64,308.02 762.5,304.7 764.52,305.87 764.9,305.8 767.2,302.3 767.4,301.88 770.1,316.4 770.29,316.9 773.1,318.2 773.17,320.01 776,311.1 776.06,309.07 777.3,314 778.94,312.04 779.7,310.5 781.82,301.26 782,301.7 784.4,309.3 784.71,310.9 786.7,317.6 787.59,314.52 790.3,308.8 790.48,308.61 793.2,308.8 793.36,307.26 795.5,318.7 796.24,316.87 799.13,314.63 799.6,314.6 802.01,319.08 804.9,319.24 805.5,323.4 807.78,318.45 810.2,311.7 810.66,312.19 813.55,316.38 813.7,315.2 816.43,310.35 816.7,312.9 819.32,318.12 820.2,320.5 822.2,317.46 824.3,315.8 825.08,316.07 826.6,321.7 827.97,319 830.2,318.7 830.85,318.39 833.74,312.45 834.9,312.3 836.62,316.31 839,324 839.5,317.83 841.9,308.2 842.39,311.02 845.27,315.78 847.2,321.1 848.16,314.87 850.1,306.4 851.04,307.09 853.6,312.3 853.92,311.99 856.81,308.28 857.2,308.8 859.69,315.46 862.58,323.23 863,322.8 865.46,312.85 866,312.9 868.34,315.9 868.9,315.8 871.23,313.83 873.6,313.5 874.11,310.62 876.1,302.6 877,300.84 879.88,305.57 880.2,304.9 882.76,309.14 883.2,311.4 884.9,325.5 885.65,317.54 886.7,306.7 888.53,306.69 890.8,306.1 891.42,307.71 894.3,309 894.3,308.86 897.18,294.63 897.8,292.6 900.07,297.22 902.5,296.7 902.95,300.61 905.5,310.2 905.84,312.71 908.4,296.7 908.72,297.8 910.7,302 911.6,295.48 913.1,286.2 914.49,300.07 914.8,299.6 917.37,299.61 917.8,300.2 920.26,297.43 921.3,298.5 923.14,302.2 924.8,305.5 926.02,304.88 928.91,304.21 929.5,304.3 931.79,306.86 932.4,312 934.68,300.83 935.4,299.6 937.56,304.01 938.9,307.9 940.44,305.43 943,301.4 943.33,299.96 946.21,306.33 948.3,310.8 949.1,310.19 951.98,310.99 953,310.8 954.86,316.2 956.5,319 957.75,312.79 958.9,305.5 960.63,305.51 962.4,307.3 963.52,308.64 966.4,300.59 967.1,302.6 969.28,309.32 969.8,310.5 972.17,309.88 972.7,309.3 975.05,306.69 975.6,305.2 977.94,314.08 979.7,318.1 980.82,311.01 982.7,302.3 983.7,306.38 986.59,312.35 987.4,317.6 989.47,310.19 991.5,305.2 992.36,307.67 995.24,318.04 997.9,322.3 998.12,322.63 1000.3,312.3 1001.01,309.33 1003.89,303.69 1004.4,301.1 1006.78,310.48 1007.3,314 1009.66,317.93 1010.8,321.7 1012.54,316.83 1013.2,315.2 1015.43,313.08 1017.3,311.7 1018.31,319.72 1019.6,327.5 1021.2,312.7 1022,307.6 1024.08,318.93 1025.5,322.3 1026.96,327.29 1028.4,327.5 1029.85,315.9 1030.8,311.1 1032.73,319.34 1034.3,326.9 1035.62,325.29 1038.5,321.49 1040.8,321.1 1041.38,319.31 1044.27,323.05 1045.5,322.3 1047.15,329.5 1049.6,330.5 1050.04,330.68 1052.92,317.01 1054.3,315.2 1055.8,318.87 1058.4,328.1 1058.69,324.23 1060.7,308.2 1061.57,310.78 1064.46,318.61 1065.4,322.3 1067.3,318.5 1067.34,317.69 1069.7,324.9 1070.22,322.25 1072,321.4 1073.11,319.43 1075,325.5 1075.99,319.67 1077.3,310.2 1078.88,325.35 1079.7,330.2 1081.76,322.2 1082.6,319 1084.64,321.81 1085.5,322.6 1087.53,312.57 1087.9,310.2 1090.41,313.53 1091.4,312.6 1093.3,307.98 1093.8,307.3 1096.18,318.55 1096.7,317.9 1099,304.4 1099.06,304.57 1101.4,324.3 1101.95,320.98 1104.3,313.2 1104.83,312.76 1106.7,319 1107.72,319.11 1109.6,312.6 1110.6,309.93 1113.48,298.86 1114.3,297.9 1116.37,306.59 1117.8,311.4 1119.25,311.62 1121.9,317.9 1122.14,317.23 1125.02,305.19 1125.4,304.4 1127.9,315.52 1129,319 1130.79,309.62 1133.67,300.49 1133.7,300.3 1136.56,309.2 1136.6,310.2 1139.44,305.43 1141.3,305 1142.32,303.97 1145.21,308.25 1146,308.5 1148.09,306.15 1150.7,306.1 1150.98,305.91 1152.4,319 1153.86,309.54 1155.4,300.3 1156.74,302.18 1159.63,306.1 1160.1,307.3 1161.8,322.6 1162.51,323.53 1165.3,313.5 1165.4,314.78 1167.6,305.3 1168.28,308.67 1170,319.3 1171.16,320.38 1172.9,319.9 1174.05,318.17 1176.4,315.2 1176.93,312.42 1179.82,314.97 1180,316.4 1182.7,320.33 1183.5,319.3 1184.6,325.8 1185.58,326.19 1188.2,319.9 1188.47,320.19 1191.35,318.76 1192.9,318.2 1194.24,317.72 1195.2,311.7 1197.12,313.17 1198.7,314.6 1200,318.16 1201.1,314.6 1202.89,319.56 1204,319.3 1205.77,319.75 1208.1,318.2 1208.66,315 1210.5,315.2 1211.54,325.44 1212.2,332.3 1212.8,342.2 1214.42,337.39 1216.9,324.6 1217.31,330.08 1219.3,332.8 1220.19,330.92 1223.08,323.69 1223.4,321.7 1225.1,332.8 1225.96,329.4 1227.5,325.8 1228.84,326.16 1231.6,329.3 1231.73,328.38 1234.61,327.96 1235.1,326.4 1237.5,319.64 1238.1,317.6 1240.38,325.54 1242.2,330.5 1243.26,328.21 1246.15,321.12 1246.9,319.3 1249.03,318.73 1250.4,321.1 1251.92,320.44 1253.3,319.3 1254.8,322.39 1257,328.1 1257.68,326.53" fill="none" stroke="#000080" stroke-width="3.4" stroke-linejoin="miter" stroke-linecap="round" clip-path="url(#cc)"/>
<rect x="678" y="238" width="580" height="2" fill="#000"/>
<rect x="678" y="238" width="2" height="190" fill="#000"/>
<rect x="1255.8" y="238" width="2.2" height="190" fill="#000"/>
<rect x="678" y="421" width="580" height="2.1" fill="#000"/>
<rect x="677.7" y="422" width="2.1" height="5.6" fill="#000"/>
<text x="0" y="0" font-size="20" text-anchor="middle" transform="translate(677.2,451.8) scale(1.080,1)">500</text>
<rect x="713.75" y="422" width="2.1" height="4" fill="#000"/>
<rect x="749.8" y="422" width="2.1" height="5.6" fill="#000"/>
<text x="0" y="0" font-size="20" text-anchor="middle" transform="translate(749.3,451.8) scale(1.080,1)">525</text>
<rect x="785.85" y="422" width="2.1" height="4" fill="#000"/>
<rect x="821.9" y="422" width="2.1" height="5.6" fill="#000"/>
<text x="0" y="0" font-size="20" text-anchor="middle" transform="translate(821.4,451.8) scale(1.080,1)">550</text>
<rect x="857.95" y="422" width="2.1" height="4" fill="#000"/>
<rect x="894" y="422" width="2.1" height="5.6" fill="#000"/>
<text x="0" y="0" font-size="20" text-anchor="middle" transform="translate(893.5,451.8) scale(1.080,1)">575</text>
<rect x="930.05" y="422" width="2.1" height="4" fill="#000"/>
<rect x="966.1" y="422" width="2.1" height="5.6" fill="#000"/>
<text x="0" y="0" font-size="20" text-anchor="middle" transform="translate(965.6,451.8) scale(1.080,1)">600</text>
<rect x="1002.15" y="422" width="2.1" height="4" fill="#000"/>
<rect x="1038.2" y="422" width="2.1" height="5.6" fill="#000"/>
<text x="0" y="0" font-size="20" text-anchor="middle" transform="translate(1037.7,451.8) scale(1.080,1)">625</text>
<rect x="1074.25" y="422" width="2.1" height="4" fill="#000"/>
<rect x="1110.3" y="422" width="2.1" height="5.6" fill="#000"/>
<text x="0" y="0" font-size="20" text-anchor="middle" transform="translate(1109.8,451.8) scale(1.080,1)">650</text>
<rect x="1146.35" y="422" width="2.1" height="4" fill="#000"/>
<rect x="1182.4" y="422" width="2.1" height="5.6" fill="#000"/>
<text x="0" y="0" font-size="20" text-anchor="middle" transform="translate(1181.9,451.8) scale(1.080,1)">675</text>
<rect x="1218.45" y="422" width="2.1" height="4" fill="#000"/>
<rect x="1254.5" y="422" width="2.1" height="5.6" fill="#000"/>
<text x="0" y="0" font-size="20" text-anchor="middle" transform="translate(1254,451.8) scale(1.080,1)">700</text>
<rect x="779.85" y="413" width="3.5" height="14" fill="#000"/>
<rect x="779.85" y="392.9" width="3.5" height="14" fill="#000"/>
<rect x="779.85" y="372.8" width="3.5" height="14" fill="#000"/>
<rect x="779.85" y="352.7" width="3.5" height="14" fill="#000"/>
<rect x="779.85" y="332.6" width="3.5" height="14" fill="#000"/>
<rect x="779.85" y="312.5" width="3.5" height="14" fill="#000"/>
<rect x="910.85" y="413" width="3.5" height="14" fill="#000"/>
<rect x="910.85" y="392.9" width="3.5" height="14" fill="#000"/>
<rect x="910.85" y="372.8" width="3.5" height="14" fill="#000"/>
<rect x="910.85" y="352.7" width="3.5" height="14" fill="#000"/>
<rect x="910.85" y="332.6" width="3.5" height="14" fill="#000"/>
<rect x="910.85" y="312.5" width="3.5" height="14" fill="#000"/>
<rect x="910.85" y="298" width="3.5" height="8.4" fill="#000"/>
<rect x="1135.45" y="413" width="3.5" height="14" fill="#000"/>
<rect x="1135.45" y="392.9" width="3.5" height="14" fill="#000"/>
<rect x="1135.45" y="372.8" width="3.5" height="14" fill="#000"/>
<rect x="1135.45" y="352.7" width="3.5" height="14" fill="#000"/>
<rect x="1135.45" y="332.6" width="3.5" height="14" fill="#000"/>
<rect x="1135.45" y="312.5" width="3.5" height="14" fill="#000"/>
<text x="700.3" y="269.2" font-size="21" text-anchor="start">c)</text>
<text x="761.5" y="287.5" font-size="20.7" text-anchor="start">B</text>
<text x="776.3" y="293.6" font-size="14" text-anchor="start">1</text>
<text x="782.3" y="279.3" font-size="14.5" text-anchor="start">high</text>
<text x="884" y="274.7" font-size="20" text-anchor="start">A</text>
<text x="899.5" y="280" font-size="14" text-anchor="start">1</text>
<text x="907.5" y="274.7" font-size="20" text-anchor="start">(LO)</text>
<text x="1106.2" y="286" font-size="20.5" text-anchor="start">E</text>
<text x="1119.5" y="291" font-size="14" text-anchor="start">1</text>
<text x="1127" y="286" font-size="20.5" text-anchor="start">(LO)</text>
<text x="0" y="0" font-size="23" text-anchor="middle" transform="translate(667,331.2) rotate(-90) scale(0.952,1)">Intensity (arb. unit.)</text>
<text x="967.7" y="495.3" font-size="27.5" text-anchor="middle">Raman Shift (cm<tspan font-size="19" dy="-11">-1</tspan><tspan dy="11">)</tspan></text>
</svg>
</body></html>
